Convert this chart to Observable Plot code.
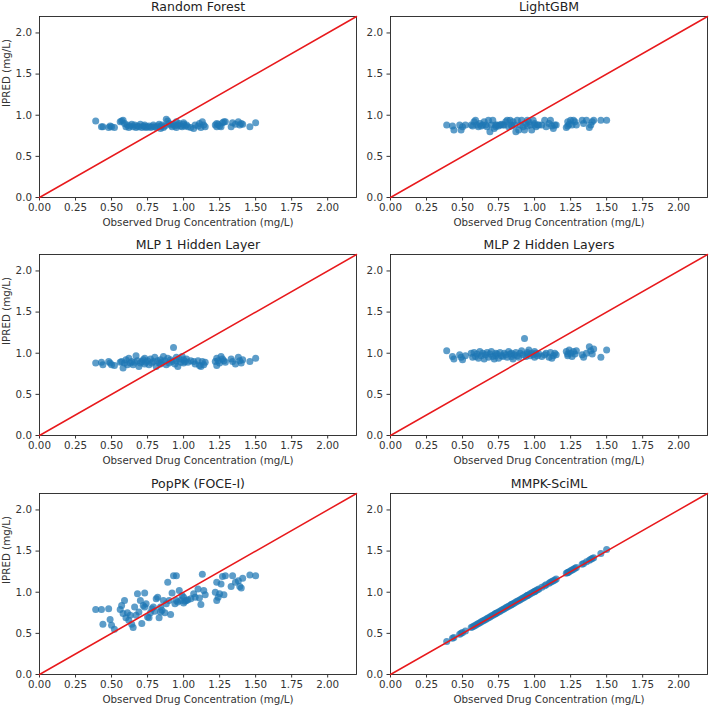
<!DOCTYPE html>
<html>
<head>
<meta charset="utf-8">
<script src="https://cdn.jsdelivr.net/npm/d3@7"></script>
<script src="https://cdn.jsdelivr.net/npm/@observablehq/plot@0.6"></script>
<style>
  html, body { margin: 0; padding: 0; background: #fff; }
  #wrap { position: relative; width: 709px; height: 707px; font-family: "DejaVu Sans", sans-serif; }
  #wrap > div { position: absolute; }
</style>
</head>
<body>
<div id="wrap"></div>
<script>
const titles = ["Random Forest", "LightGBM", "MLP 1 Hidden Layer", "MLP 2 Hidden Layers", "PopPK (FOCE-I)", "MMPK-SciML"];
const xLabel = "Observed Drug Concentration (mg/L)";
const yLabel = "IPRED (mg/L)";
const axisLimit = [0, 2.2];
const xTicks = [0, 0.25, 0.5, 0.75, 1.0, 1.25, 1.5, 1.75, 2.0];
const yTicks = [0, 0.5, 1.0, 1.5, 2.0];

const observed = [0.39,0.43,0.44,0.48,0.49,0.50,0.52,0.56,0.57,0.58,0.59,0.60,0.61,0.62,0.63,0.64,0.65,0.66,0.67,0.68,0.69,0.70,0.71,0.72,0.73,0.73,0.74,0.75,0.76,0.77,0.78,0.79,0.80,0.81,0.82,0.83,0.84,0.84,0.85,0.86,0.87,0.88,0.89,0.90,0.91,0.92,0.93,0.94,0.95,0.95,0.96,0.97,0.98,0.99,1.00,1.00,1.01,1.02,1.03,1.05,1.07,1.08,1.10,1.11,1.12,1.13,1.14,1.15,1.22,1.23,1.23,1.24,1.25,1.26,1.27,1.28,1.29,1.33,1.34,1.36,1.38,1.39,1.40,1.41,1.46,1.50];

const randomForest = [0.93,0.86,0.86,0.85,0.87,0.86,0.85,0.92,0.93,0.94,0.90,0.86,0.88,0.85,0.87,0.89,0.86,0.88,0.85,0.87,0.86,0.89,0.85,0.87,0.86,0.88,0.85,0.86,0.87,0.85,0.86,0.88,0.86,0.85,0.87,0.89,0.86,0.84,0.88,0.85,0.87,0.95,0.93,0.90,0.88,0.86,0.89,0.87,0.92,0.85,0.88,0.90,0.87,0.86,0.91,0.89,0.87,0.88,0.86,0.85,0.84,0.88,0.87,0.90,0.85,0.92,0.88,0.86,0.88,0.86,0.90,0.89,0.87,0.86,0.91,0.92,0.92,0.86,0.91,0.89,0.92,0.88,0.90,0.89,0.86,0.91];

const lightGBM = [0.88,0.87,0.82,0.88,0.82,0.86,0.88,0.88,0.87,0.92,0.94,0.88,0.86,0.90,0.87,0.88,0.92,0.88,0.86,0.94,0.80,0.88,0.94,0.84,0.88,0.86,0.88,0.87,0.88,0.89,0.88,0.88,0.92,0.94,0.86,0.94,0.88,0.87,0.92,0.88,0.80,0.94,0.82,0.88,0.94,0.86,0.82,0.90,0.94,0.87,0.92,0.88,0.82,0.94,0.88,0.90,0.86,0.88,0.88,0.88,0.94,0.86,0.90,0.94,0.87,0.84,0.88,0.88,0.85,0.87,0.92,0.89,0.94,0.88,0.94,0.92,0.88,0.94,0.90,0.94,0.85,0.88,0.92,0.94,0.94,0.94];

const mlp1 = [0.88,0.89,0.86,0.90,0.88,0.86,0.85,0.89,0.90,0.82,0.88,0.92,0.86,0.94,0.88,0.90,0.86,0.89,0.97,0.91,0.84,0.88,0.90,0.92,0.87,0.94,0.89,0.91,0.86,0.93,0.88,0.90,0.95,0.84,0.91,0.88,0.92,0.87,0.89,0.96,0.91,0.86,0.94,0.88,0.92,0.90,1.07,0.87,0.95,0.91,0.84,0.93,0.89,0.96,0.88,0.92,0.90,0.93,0.89,0.91,0.90,0.87,0.91,0.85,0.84,0.90,0.86,0.89,0.90,0.85,0.94,0.91,0.88,0.96,0.93,0.91,0.89,0.93,0.90,0.87,0.95,0.91,0.88,0.92,0.90,0.94];

const mlp2 = [1.03,0.96,0.93,0.98,0.95,0.92,0.97,1.00,0.95,1.01,0.96,0.99,0.94,1.02,0.97,1.00,0.93,0.98,1.01,0.95,0.99,1.02,0.96,0.93,1.00,0.97,0.99,0.94,1.01,0.97,0.96,1.00,0.98,0.95,1.02,0.99,0.96,1.00,0.93,0.98,1.01,0.97,0.95,1.00,1.03,0.98,1.18,0.96,1.01,0.99,1.04,0.97,1.00,0.98,1.02,0.95,1.00,0.97,0.99,0.96,0.98,1.00,0.95,1.01,0.94,0.97,1.00,0.98,1.02,0.97,0.99,1.04,1.00,0.96,1.02,0.99,1.03,0.98,0.95,1.00,1.08,1.03,0.99,1.05,0.95,1.04];

const popPK = [0.79,0.79,0.61,0.80,0.67,0.60,0.55,0.79,0.84,0.74,0.90,0.69,0.75,0.66,0.72,0.61,0.57,0.82,0.72,0.98,0.76,0.90,0.62,0.84,0.99,0.82,0.86,0.70,0.69,0.75,0.80,0.82,0.77,0.92,0.94,0.69,0.82,0.76,0.78,0.90,0.75,0.86,1.12,0.90,0.73,0.99,1.20,0.86,0.90,1.20,0.88,1.02,0.90,0.96,0.94,0.87,0.89,0.90,0.91,0.92,0.98,0.94,1.04,0.93,0.85,1.22,1.02,0.97,1.00,1.12,0.90,0.94,0.98,1.10,1.19,0.97,1.20,1.07,1.20,1.12,1.14,1.07,1.05,1.17,1.21,1.20];

const mmpk = [0.40,0.44,0.45,0.49,0.50,0.51,0.53,0.57,0.58,0.59,0.60,0.61,0.62,0.63,0.64,0.65,0.66,0.67,0.68,0.69,0.70,0.71,0.72,0.73,0.74,0.74,0.75,0.76,0.77,0.78,0.79,0.80,0.81,0.82,0.83,0.84,0.85,0.85,0.86,0.87,0.88,0.89,0.90,0.91,0.92,0.93,0.94,0.95,0.96,0.96,0.97,0.98,0.99,1.00,1.01,1.01,1.02,1.03,1.04,1.06,1.08,1.09,1.11,1.12,1.13,1.14,1.15,1.16,1.23,1.24,1.24,1.25,1.26,1.27,1.28,1.29,1.30,1.34,1.35,1.37,1.39,1.40,1.41,1.42,1.47,1.52];

const series = [randomForest, lightGBM, mlp1, mlp2, popPK, mmpk];

const wrap = document.getElementById("wrap");
const fontFamily = "'DejaVu Sans', sans-serif";
const W = 358, H = 238;
const lefts = [0, 351];
const tops = [0, 238, 477];

series.forEach((ys, i) => {
  const col = i % 2, row = Math.floor(i / 2);
  const data = observed.map((x, j) => ({x, y: ys[j]}));
  const marks = [
    Plot.frame({stroke: "#222", strokeWidth: 0.9}),
    Plot.axisX({ticks: xTicks, tickFormat: d3.format(".2f"), tickSize: 3.5, tickPadding: 3, label: null, fontSize: 10.3, color: "#333"}),
    Plot.axisY({ticks: yTicks, tickFormat: d3.format(".1f"), tickSize: 3.5, tickPadding: 4, label: null, fontSize: 10.3, color: "#333"}),
    Plot.dot(data, {x: "x", y: "y", r: 3.5, fill: "#1f77b4", fillOpacity: 0.72, stroke: "none"}),
    Plot.line(axisLimit, {x: d => d, y: d => d, stroke: "#e8191c", strokeWidth: 1.5}),
    Plot.text([titles[i]], {frameAnchor: "top", dy: -9.5, fontSize: 12.5, fontWeight: "normal", fill: "#222", lineAnchor: "middle"}),
    Plot.text([xLabel], {frameAnchor: "bottom", dy: 25.5, fontSize: 10.3, fontWeight: "normal", fill: "#333", lineAnchor: "middle"})
  ];
  if (col === 0) {
    marks.push(Plot.text([yLabel], {frameAnchor: "left", dx: -33, rotate: -90, fontSize: 10.3, fontWeight: "normal", fill: "#333", lineAnchor: "middle"}));
  }
  const chart = Plot.plot({
    width: W, height: H,
    marginLeft: 39, marginRight: 2, marginTop: 16, marginBottom: 41,
    style: {fontFamily, fontSize: "10px", fontWeight: "normal", background: "transparent", overflow: "visible"},
    x: {domain: axisLimit},
    y: {domain: axisLimit},
    marks
  });
  const holder = document.createElement("div");
  holder.style.left = lefts[col] + "px";
  holder.style.top = tops[row] + "px";
  holder.appendChild(chart);
  wrap.appendChild(holder);
});
</script>
</body>
</html>
